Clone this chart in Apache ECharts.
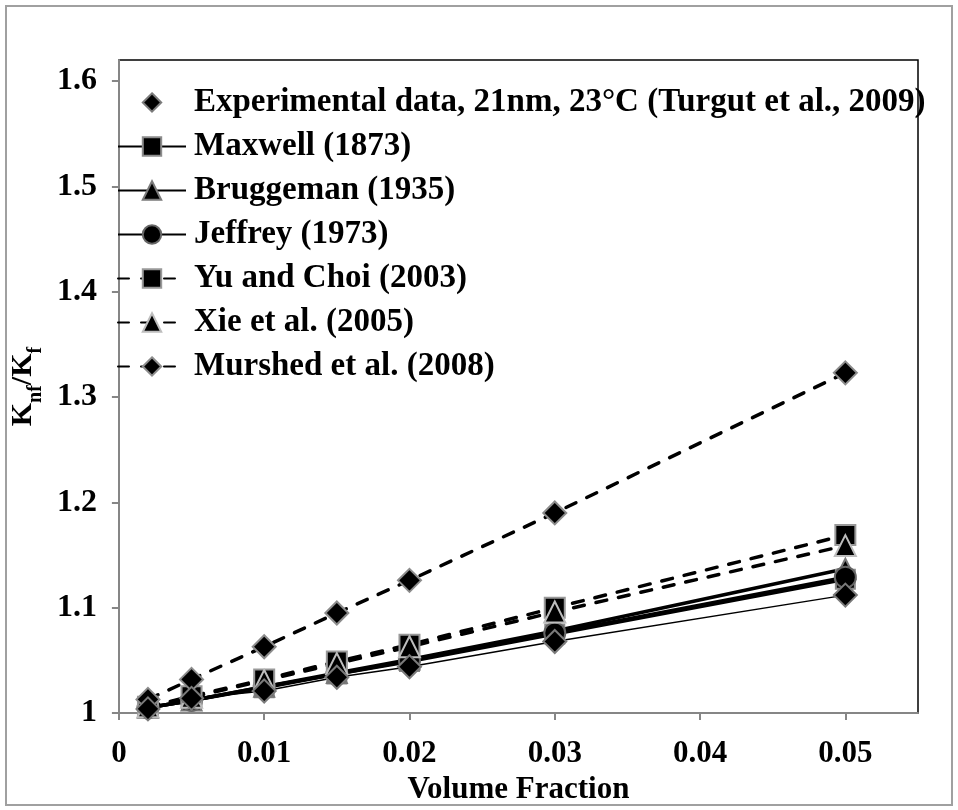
<!DOCTYPE html>
<html>
<head>
<meta charset="utf-8">
<script src="https://cdn.jsdelivr.net/npm/echarts@6/dist/echarts.min.js"></script>
<style>
  html, body { margin: 0; padding: 0; background: #fff; }
  #chart { width: 958px; height: 810px; }
</style>
</head>
<body>
<div id="chart"></div>
<script>
// Volume fraction of nanoparticles
const volumeFraction = [0.002, 0.005, 0.01, 0.015, 0.02, 0.03, 0.05];

// Thermal conductivity ratio knf/kf
const experimental = [1.004, 1.014, 1.021, 1.034, 1.044, 1.068, 1.112];
const maxwell      = [1.005, 1.012, 1.024, 1.037, 1.049, 1.075, 1.127];
const bruggeman    = [1.005, 1.012, 1.025, 1.038, 1.051, 1.078, 1.137];
const jeffrey      = [1.005, 1.012, 1.025, 1.037, 1.050, 1.076, 1.129];
const yuChoi       = [1.006, 1.016, 1.032, 1.049, 1.065, 1.100, 1.169];
const xie          = [1.006, 1.015, 1.031, 1.047, 1.063, 1.096, 1.159];
const murshed      = [1.013, 1.032, 1.063, 1.095, 1.126, 1.190, 1.323];

// Axis tick labels
const xTicks = [0, 0.01, 0.02, 0.03, 0.04, 0.05];
const yTicks = [1, 1.1, 1.2, 1.3, 1.4, 1.5, 1.6];

const names = {
  exp: 'Experimental data, 21nm, 23°C (Turgut et al., 2009)',
  maxwell: 'Maxwell (1873)',
  bruggeman: 'Bruggeman (1935)',
  jeffrey: 'Jeffrey (1973)',
  yu: 'Yu and Choi (2003)',
  xie: 'Xie et al. (2005)',
  murshed: 'Murshed et al. (2008)'
};

const pairs = vals => volumeFraction.map((x, i) => [x, vals[i]]);
const FONT = 'Liberation Serif, Times New Roman, serif';
const dash = [11, 12];

function modelSeries(name, vals, symbol, size, border, dashed) {
  return {
    name: name,
    type: 'line',
    data: pairs(vals),
    symbol: symbol,
    symbolSize: size,
    showSymbol: true,
    lineStyle: { color: '#000', width: 3.5, type: dashed ? dash : 'solid', cap: dashed ? 'round' : 'butt' },
    itemStyle: { color: '#000', borderColor: border, borderWidth: 2 },
    emphasis: { disabled: true }
  };
}

const chart = echarts.init(document.getElementById('chart'), null, { renderer: 'canvas' });

chart.setOption({
  backgroundColor: '#fff',
  animation: false,
  textStyle: { fontFamily: FONT, fontWeight: 'bold', color: '#000' },
  graphic: [{
    type: 'rect',
    shape: { x: 6, y: 6, width: 946, height: 799 },
    style: { fill: 'none', stroke: '#a0a0a0', lineWidth: 2 },
    silent: true,
    z: -1
  }],
  grid: {
    left: 117, top: 60, right: 40, bottom: 96,
    show: true, borderColor: '#000', borderWidth: 1.5, backgroundColor: 'transparent'
  },
  legend: {
    orient: 'vertical',
    left: 117,
    top: 86,
    padding: 0,
    itemWidth: 68,
    itemHeight: 23,
    itemGap: 11,
    selectedMode: false,
    textStyle: { fontFamily: FONT, fontWeight: 'bold', fontSize: 33, color: '#000', padding: [0, 0, 0, 3] },
    data: [
      { name: names.exp, lineStyle: { width: 0, color: 'rgba(0,0,0,0)' } },
      names.maxwell, names.bruggeman, names.jeffrey, names.yu, names.xie, names.murshed
    ]
  },
  xAxis: {
    type: 'value',
    min: 0, max: 0.055, interval: 0.01,
    name: 'Volume Fraction',
    nameLocation: 'middle',
    nameGap: 60,
    nameTextStyle: { fontFamily: FONT, fontWeight: 'bold', fontSize: 31, color: '#000' },
    axisLine: { show: true, lineStyle: { color: '#868686', width: 2 } },
    axisTick: { show: true, inside: false, length: 7, lineStyle: { color: '#868686', width: 2 }, customValues: xTicks },
    axisLabel: {
      margin: 25, fontFamily: FONT, fontWeight: 'bold', fontSize: 31, color: '#000',
      customValues: xTicks,
      formatter: v => String(Math.round(v * 1000) / 1000)
    },
    splitLine: { show: false }
  },
  yAxis: {
    type: 'value',
    min: 1, max: 1.62, interval: 0.1,
    name: '{k|K}{s|nf}{k|/K}{s|f}',
    nameLocation: 'middle',
    nameRotate: 90,
    nameGap: 70,
    nameTextStyle: {
      rich: {
        k: { fontFamily: FONT, fontWeight: 'bold', fontSize: 30, lineHeight: 31, verticalAlign: 'top', color: '#000' },
        s: { fontFamily: FONT, fontWeight: 'bold', fontSize: 20, lineHeight: 38, verticalAlign: 'bottom', color: '#000' }
      }
    },
    axisLine: { show: true, lineStyle: { color: '#868686', width: 2 } },
    axisTick: { show: true, inside: false, length: 7, lineStyle: { color: '#868686', width: 2 }, customValues: yTicks },
    axisLabel: {
      margin: 22, fontFamily: FONT, fontWeight: 'bold', fontSize: 32, color: '#000',
      customValues: yTicks,
      formatter: v => String(Math.round(v * 10) / 10)
    },
    splitLine: { show: false }
  },
  series: [
    modelSeries(names.maxwell, maxwell, 'rect', 19, '#8c8c8c', false),
    modelSeries(names.bruggeman, bruggeman, 'triangle', 20, '#7a7a7a', false),
    modelSeries(names.jeffrey, jeffrey, 'circle', 21, '#666666', false),
    modelSeries(names.yu, yuChoi, 'rect', 20, '#999999', true),
    modelSeries(names.xie, xie, 'triangle', 21, '#bdbdbd', true),
    modelSeries(names.murshed, murshed, 'diamond', 23, '#8c8c8c', true),
    {
      name: names.exp,
      type: 'line',
      data: pairs(experimental),
      symbol: 'diamond',
      symbolSize: 23,
      showSymbol: true,
      lineStyle: { color: '#000', width: 1.5 },
      itemStyle: { color: '#000', borderColor: '#7a7a7a', borderWidth: 2 },
      emphasis: { disabled: true }
    }
  ]
});
</script>
</body>
</html>
